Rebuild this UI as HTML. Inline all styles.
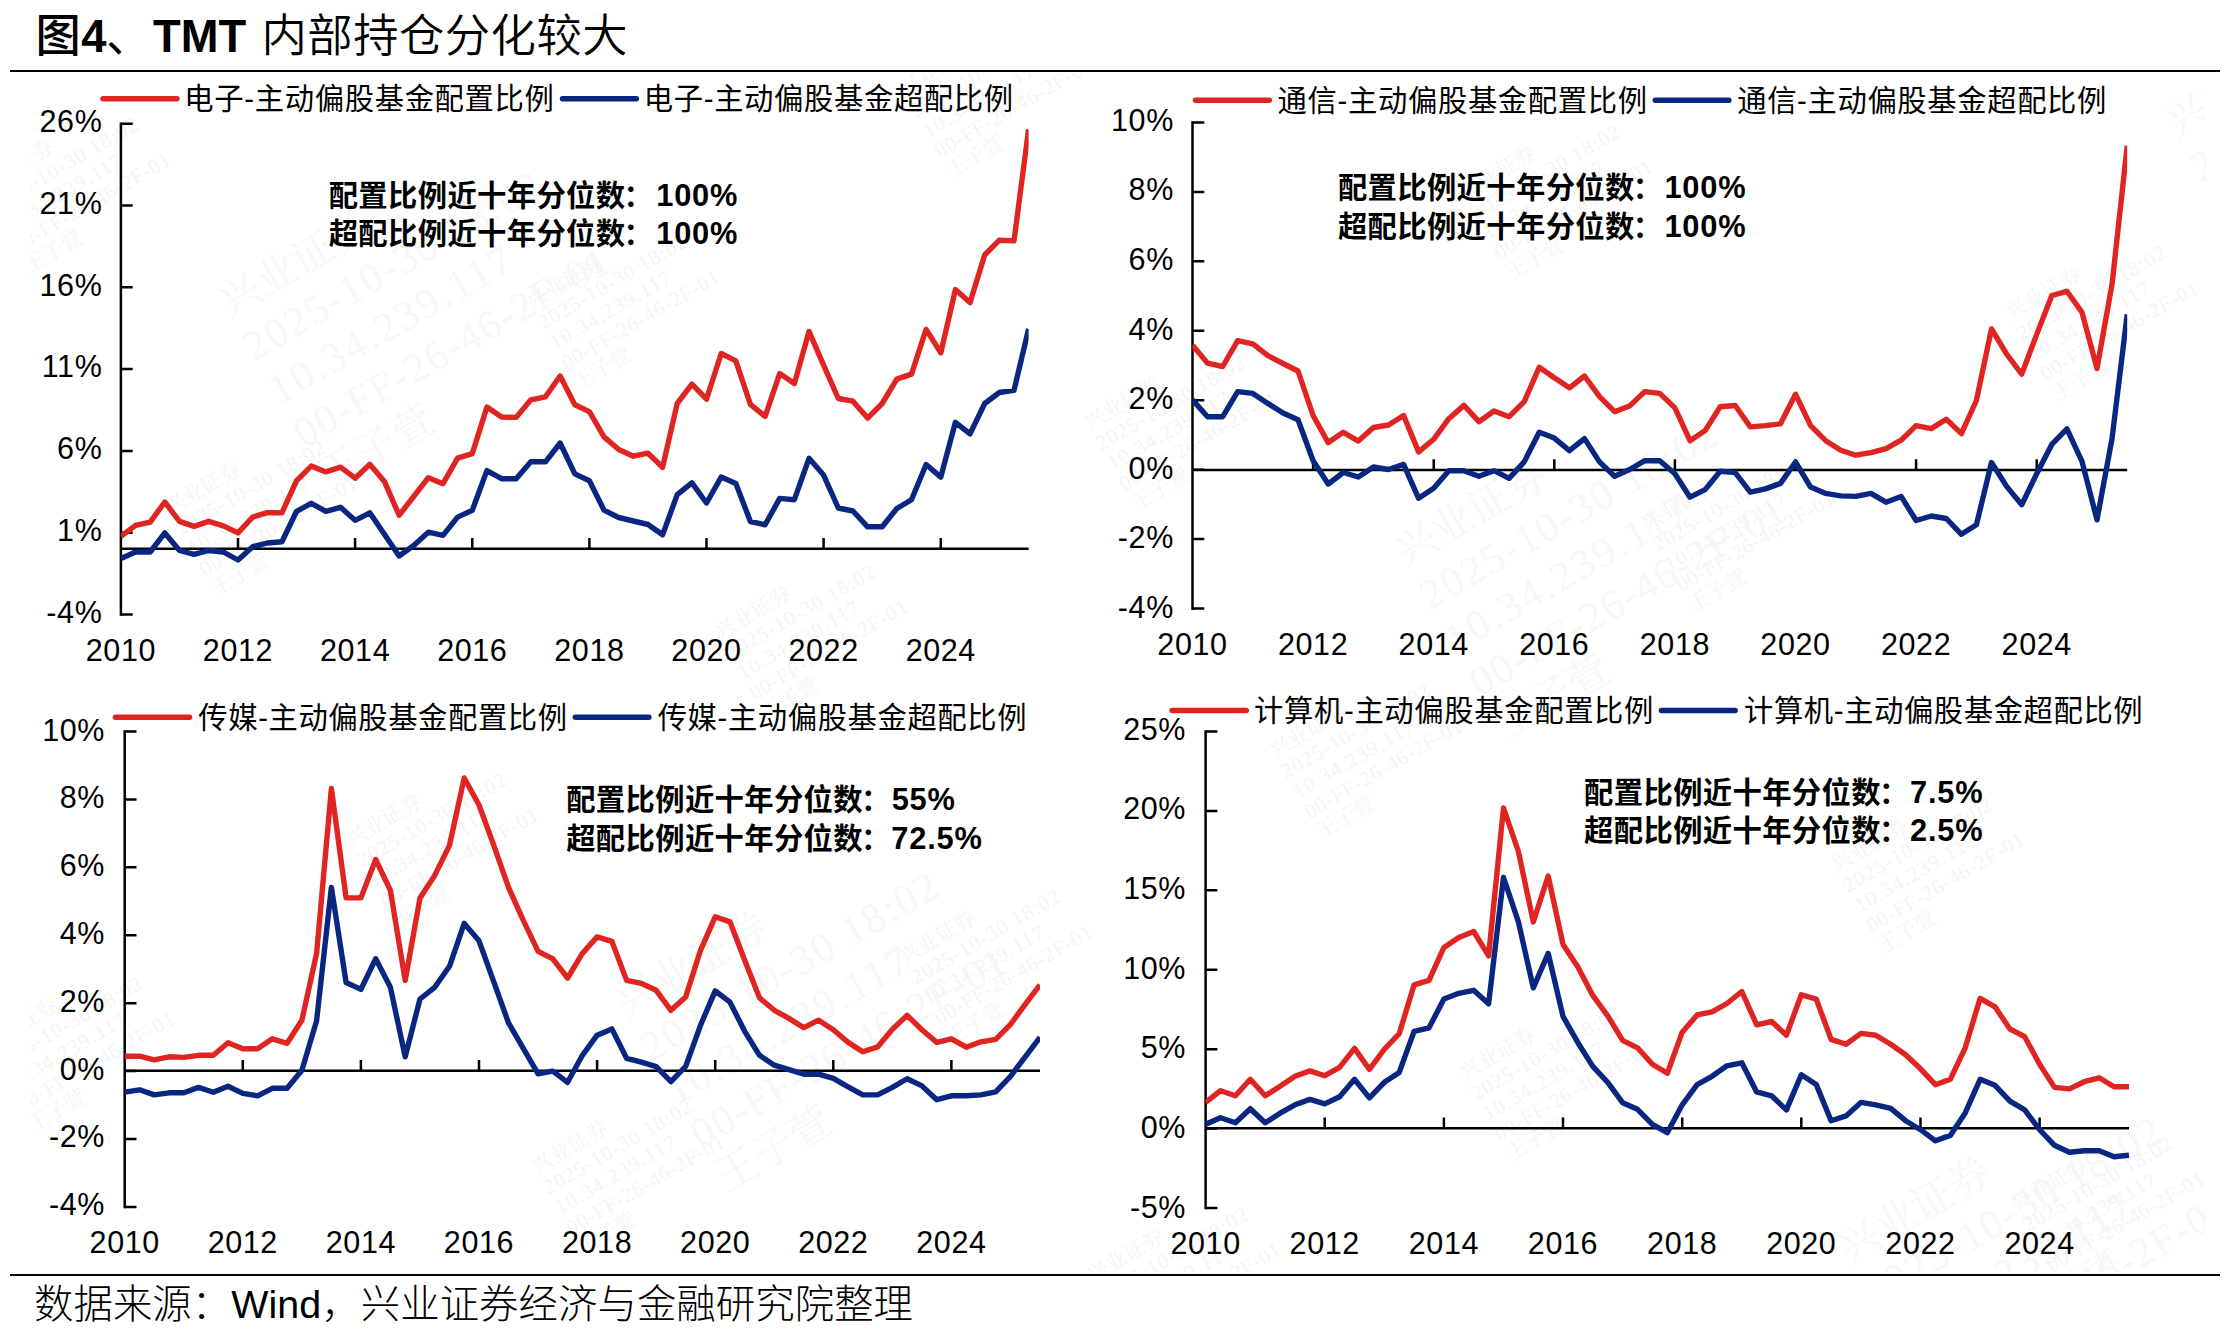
<!DOCTYPE html>
<html lang="zh-CN"><head><meta charset="utf-8">
<title>图4、TMT 内部持仓分化较大</title>
<style>
html,body{margin:0;padding:0;background:#fff;}
body{width:2230px;height:1334px;overflow:hidden;position:relative;}
svg{position:absolute;left:0;top:0;display:block;}
text{font-family:"Liberation Sans","Noto Sans CJK SC",sans-serif;fill:#000;}
.ax{font-size:30.5px;letter-spacing:0.6px;}
.lg{font-size:29.33px;}
.an{font-size:29.33px;font-weight:700;}
.nm{font-size:30.8px;letter-spacing:0.8px;}
.tb{font-size:45.3px;font-weight:700;}
.tk{font-size:45.3px;font-weight:350;}
.ft{font-size:39.4px;font-weight:300;}
.wm{font-family:"Liberation Serif","Noto Serif CJK SC",serif;fill:#f6f6f6;}
.ln{fill:none;stroke-width:5.4;stroke-linejoin:round;stroke-linecap:butt;}
.lgl{fill:none;stroke-width:5.4;stroke-linecap:round;}
.axl{stroke:#000;stroke-width:2.5;fill:none;stroke-linecap:butt;}
</style></head><body>
<svg width="2230" height="1334" viewBox="0 0 2230 1334">
<clipPath id="wmclip"><rect x="30" y="73" width="2176" height="1199"/></clipPath>
<g clip-path="url(#wmclip)">
<g transform="translate(-16.5 194.5) rotate(-30)" font-size="21"><text class="wm" style="fill:#f4f4f4" x="0" y="-2.1" textLength="84" lengthAdjust="spacing">兴业证券</text><text class="wm" style="fill:#f4f4f4" x="0" y="21.2" textLength="168" lengthAdjust="spacing">2025-10-30 18:02</text><text class="wm" style="fill:#f4f4f4" x="0" y="44.5" textLength="136.5" lengthAdjust="spacing">10.34.239.117</text><text class="wm" style="fill:#f4f4f4" x="0" y="67.8" textLength="178.5" lengthAdjust="spacing">00-FF-26-46-2F-01</text><text class="wm" style="fill:#f4f4f4" x="0" y="91.1" textLength="63" lengthAdjust="spacing">王子萱</text></g>
<g transform="translate(231 322) rotate(-30)" font-size="42"><text class="wm" style="fill:#f7f7f7" x="0" y="-4.2" textLength="168" lengthAdjust="spacing">兴业证券</text><text class="wm" style="fill:#f7f7f7" x="0" y="45.8" textLength="336" lengthAdjust="spacing">2025-10-30 18:02</text><text class="wm" style="fill:#f7f7f7" x="0" y="95.8" textLength="273" lengthAdjust="spacing">10.34.239.117</text><text class="wm" style="fill:#f7f7f7" x="0" y="145.7" textLength="357" lengthAdjust="spacing">00-FF-26-46-2F-01</text><text class="wm" style="fill:#f7f7f7" x="0" y="195.7" textLength="126" lengthAdjust="spacing">王子萱</text></g>
<g transform="translate(532.5 311.5) rotate(-30)" font-size="21"><text class="wm" style="fill:#f4f4f4" x="0" y="-2.1" textLength="84" lengthAdjust="spacing">兴业证券</text><text class="wm" style="fill:#f4f4f4" x="0" y="21.2" textLength="168" lengthAdjust="spacing">2025-10-30 18:02</text><text class="wm" style="fill:#f4f4f4" x="0" y="44.5" textLength="136.5" lengthAdjust="spacing">10.34.239.117</text><text class="wm" style="fill:#f4f4f4" x="0" y="67.8" textLength="178.5" lengthAdjust="spacing">00-FF-26-46-2F-01</text><text class="wm" style="fill:#f4f4f4" x="0" y="91.1" textLength="63" lengthAdjust="spacing">王子萱</text></g>
<g transform="translate(170.5 517.5) rotate(-30)" font-size="21"><text class="wm" style="fill:#f4f4f4" x="0" y="-2.1" textLength="84" lengthAdjust="spacing">兴业证券</text><text class="wm" style="fill:#f4f4f4" x="0" y="21.2" textLength="168" lengthAdjust="spacing">2025-10-30 18:02</text><text class="wm" style="fill:#f4f4f4" x="0" y="44.5" textLength="136.5" lengthAdjust="spacing">10.34.239.117</text><text class="wm" style="fill:#f4f4f4" x="0" y="67.8" textLength="178.5" lengthAdjust="spacing">00-FF-26-46-2F-01</text><text class="wm" style="fill:#f4f4f4" x="0" y="91.1" textLength="63" lengthAdjust="spacing">王子萱</text></g>
<g transform="translate(720.5 641.5) rotate(-30)" font-size="21"><text class="wm" style="fill:#f4f4f4" x="0" y="-2.1" textLength="84" lengthAdjust="spacing">兴业证券</text><text class="wm" style="fill:#f4f4f4" x="0" y="21.2" textLength="168" lengthAdjust="spacing">2025-10-30 18:02</text><text class="wm" style="fill:#f4f4f4" x="0" y="44.5" textLength="136.5" lengthAdjust="spacing">10.34.239.117</text><text class="wm" style="fill:#f4f4f4" x="0" y="67.8" textLength="178.5" lengthAdjust="spacing">00-FF-26-46-2F-01</text><text class="wm" style="fill:#f4f4f4" x="0" y="91.1" textLength="63" lengthAdjust="spacing">王子萱</text></g>
<g transform="translate(905.5 99.5) rotate(-30)" font-size="21"><text class="wm" style="fill:#f4f4f4" x="0" y="-2.1" textLength="84" lengthAdjust="spacing">兴业证券</text><text class="wm" style="fill:#f4f4f4" x="0" y="21.2" textLength="168" lengthAdjust="spacing">2025-10-30 18:02</text><text class="wm" style="fill:#f4f4f4" x="0" y="44.5" textLength="136.5" lengthAdjust="spacing">10.34.239.117</text><text class="wm" style="fill:#f4f4f4" x="0" y="67.8" textLength="178.5" lengthAdjust="spacing">00-FF-26-46-2F-01</text><text class="wm" style="fill:#f4f4f4" x="0" y="91.1" textLength="63" lengthAdjust="spacing">王子萱</text></g>
<g transform="translate(1465.5 201.5) rotate(-30)" font-size="21"><text class="wm" style="fill:#f4f4f4" x="0" y="-2.1" textLength="84" lengthAdjust="spacing">兴业证券</text><text class="wm" style="fill:#f4f4f4" x="0" y="21.2" textLength="168" lengthAdjust="spacing">2025-10-30 18:02</text><text class="wm" style="fill:#f4f4f4" x="0" y="44.5" textLength="136.5" lengthAdjust="spacing">10.34.239.117</text><text class="wm" style="fill:#f4f4f4" x="0" y="67.8" textLength="178.5" lengthAdjust="spacing">00-FF-26-46-2F-01</text><text class="wm" style="fill:#f4f4f4" x="0" y="91.1" textLength="63" lengthAdjust="spacing">王子萱</text></g>
<g transform="translate(2011.5 322.5) rotate(-30)" font-size="21"><text class="wm" style="fill:#f4f4f4" x="0" y="-2.1" textLength="84" lengthAdjust="spacing">兴业证券</text><text class="wm" style="fill:#f4f4f4" x="0" y="21.2" textLength="168" lengthAdjust="spacing">2025-10-30 18:02</text><text class="wm" style="fill:#f4f4f4" x="0" y="44.5" textLength="136.5" lengthAdjust="spacing">10.34.239.117</text><text class="wm" style="fill:#f4f4f4" x="0" y="67.8" textLength="178.5" lengthAdjust="spacing">00-FF-26-46-2F-01</text><text class="wm" style="fill:#f4f4f4" x="0" y="91.1" textLength="63" lengthAdjust="spacing">王子萱</text></g>
<g transform="translate(1407 571) rotate(-30)" font-size="42"><text class="wm" style="fill:#f7f7f7" x="0" y="-4.2" textLength="168" lengthAdjust="spacing">兴业证券</text><text class="wm" style="fill:#f7f7f7" x="0" y="45.8" textLength="336" lengthAdjust="spacing">2025-10-30 18:02</text><text class="wm" style="fill:#f7f7f7" x="0" y="95.8" textLength="273" lengthAdjust="spacing">10.34.239.117</text><text class="wm" style="fill:#f7f7f7" x="0" y="145.7" textLength="357" lengthAdjust="spacing">00-FF-26-46-2F-01</text><text class="wm" style="fill:#f7f7f7" x="0" y="195.7" textLength="126" lengthAdjust="spacing">王子萱</text></g>
<g transform="translate(1647.5 533.5) rotate(-30)" font-size="21"><text class="wm" style="fill:#f4f4f4" x="0" y="-2.1" textLength="84" lengthAdjust="spacing">兴业证券</text><text class="wm" style="fill:#f4f4f4" x="0" y="21.2" textLength="168" lengthAdjust="spacing">2025-10-30 18:02</text><text class="wm" style="fill:#f4f4f4" x="0" y="44.5" textLength="136.5" lengthAdjust="spacing">10.34.239.117</text><text class="wm" style="fill:#f4f4f4" x="0" y="67.8" textLength="178.5" lengthAdjust="spacing">00-FF-26-46-2F-01</text><text class="wm" style="fill:#f4f4f4" x="0" y="91.1" textLength="63" lengthAdjust="spacing">王子萱</text></g>
<g transform="translate(1090.5 432.5) rotate(-30)" font-size="21"><text class="wm" style="fill:#f4f4f4" x="0" y="-2.1" textLength="84" lengthAdjust="spacing">兴业证券</text><text class="wm" style="fill:#f4f4f4" x="0" y="21.2" textLength="168" lengthAdjust="spacing">2025-10-30 18:02</text><text class="wm" style="fill:#f4f4f4" x="0" y="44.5" textLength="136.5" lengthAdjust="spacing">10.34.239.117</text><text class="wm" style="fill:#f4f4f4" x="0" y="67.8" textLength="178.5" lengthAdjust="spacing">00-FF-26-46-2F-01</text><text class="wm" style="fill:#f4f4f4" x="0" y="91.1" textLength="63" lengthAdjust="spacing">王子萱</text></g>
<g transform="translate(2178 143) rotate(-30)" font-size="42"><text class="wm" style="fill:#f7f7f7" x="0" y="-4.2" textLength="168" lengthAdjust="spacing">兴业证券</text><text class="wm" style="fill:#f7f7f7" x="0" y="45.8" textLength="336" lengthAdjust="spacing">2025-10-30 18:02</text><text class="wm" style="fill:#f7f7f7" x="0" y="95.8" textLength="273" lengthAdjust="spacing">10.34.239.117</text><text class="wm" style="fill:#f7f7f7" x="0" y="145.7" textLength="357" lengthAdjust="spacing">00-FF-26-46-2F-01</text><text class="wm" style="fill:#f7f7f7" x="0" y="195.7" textLength="126" lengthAdjust="spacing">王子萱</text></g>
<g transform="translate(351.5 849.5) rotate(-30)" font-size="21"><text class="wm" style="fill:#f4f4f4" x="0" y="-2.1" textLength="84" lengthAdjust="spacing">兴业证券</text><text class="wm" style="fill:#f4f4f4" x="0" y="21.2" textLength="168" lengthAdjust="spacing">2025-10-30 18:02</text><text class="wm" style="fill:#f4f4f4" x="0" y="44.5" textLength="136.5" lengthAdjust="spacing">10.34.239.117</text><text class="wm" style="fill:#f4f4f4" x="0" y="67.8" textLength="178.5" lengthAdjust="spacing">00-FF-26-46-2F-01</text><text class="wm" style="fill:#f4f4f4" x="0" y="91.1" textLength="63" lengthAdjust="spacing">王子萱</text></g>
<g transform="translate(-12.5 1053.5) rotate(-30)" font-size="21"><text class="wm" style="fill:#f4f4f4" x="0" y="-2.1" textLength="84" lengthAdjust="spacing">兴业证券</text><text class="wm" style="fill:#f4f4f4" x="0" y="21.2" textLength="168" lengthAdjust="spacing">2025-10-30 18:02</text><text class="wm" style="fill:#f4f4f4" x="0" y="44.5" textLength="136.5" lengthAdjust="spacing">10.34.239.117</text><text class="wm" style="fill:#f4f4f4" x="0" y="67.8" textLength="178.5" lengthAdjust="spacing">00-FF-26-46-2F-01</text><text class="wm" style="fill:#f4f4f4" x="0" y="91.1" textLength="63" lengthAdjust="spacing">王子萱</text></g>
<g transform="translate(628 1023) rotate(-30)" font-size="42"><text class="wm" style="fill:#f7f7f7" x="0" y="-4.2" textLength="168" lengthAdjust="spacing">兴业证券</text><text class="wm" style="fill:#f7f7f7" x="0" y="45.8" textLength="336" lengthAdjust="spacing">2025-10-30 18:02</text><text class="wm" style="fill:#f7f7f7" x="0" y="95.8" textLength="273" lengthAdjust="spacing">10.34.239.117</text><text class="wm" style="fill:#f7f7f7" x="0" y="145.7" textLength="357" lengthAdjust="spacing">00-FF-26-46-2F-01</text><text class="wm" style="fill:#f7f7f7" x="0" y="195.7" textLength="126" lengthAdjust="spacing">王子萱</text></g>
<g transform="translate(905.5 966.5) rotate(-30)" font-size="21"><text class="wm" style="fill:#f4f4f4" x="0" y="-2.1" textLength="84" lengthAdjust="spacing">兴业证券</text><text class="wm" style="fill:#f4f4f4" x="0" y="21.2" textLength="168" lengthAdjust="spacing">2025-10-30 18:02</text><text class="wm" style="fill:#f4f4f4" x="0" y="44.5" textLength="136.5" lengthAdjust="spacing">10.34.239.117</text><text class="wm" style="fill:#f4f4f4" x="0" y="67.8" textLength="178.5" lengthAdjust="spacing">00-FF-26-46-2F-01</text><text class="wm" style="fill:#f4f4f4" x="0" y="91.1" textLength="63" lengthAdjust="spacing">王子萱</text></g>
<g transform="translate(537.5 1176.5) rotate(-30)" font-size="21"><text class="wm" style="fill:#f4f4f4" x="0" y="-2.1" textLength="84" lengthAdjust="spacing">兴业证券</text><text class="wm" style="fill:#f4f4f4" x="0" y="21.2" textLength="168" lengthAdjust="spacing">2025-10-30 18:02</text><text class="wm" style="fill:#f4f4f4" x="0" y="44.5" textLength="136.5" lengthAdjust="spacing">10.34.239.117</text><text class="wm" style="fill:#f4f4f4" x="0" y="67.8" textLength="178.5" lengthAdjust="spacing">00-FF-26-46-2F-01</text><text class="wm" style="fill:#f4f4f4" x="0" y="91.1" textLength="63" lengthAdjust="spacing">王子萱</text></g>
<g transform="translate(1275.5 760.5) rotate(-30)" font-size="21"><text class="wm" style="fill:#f4f4f4" x="0" y="-2.1" textLength="84" lengthAdjust="spacing">兴业证券</text><text class="wm" style="fill:#f4f4f4" x="0" y="21.2" textLength="168" lengthAdjust="spacing">2025-10-30 18:02</text><text class="wm" style="fill:#f4f4f4" x="0" y="44.5" textLength="136.5" lengthAdjust="spacing">10.34.239.117</text><text class="wm" style="fill:#f4f4f4" x="0" y="67.8" textLength="178.5" lengthAdjust="spacing">00-FF-26-46-2F-01</text><text class="wm" style="fill:#f4f4f4" x="0" y="91.1" textLength="63" lengthAdjust="spacing">王子萱</text></g>
<g transform="translate(1837.5 874.5) rotate(-30)" font-size="21"><text class="wm" style="fill:#f4f4f4" x="0" y="-2.1" textLength="84" lengthAdjust="spacing">兴业证券</text><text class="wm" style="fill:#f4f4f4" x="0" y="21.2" textLength="168" lengthAdjust="spacing">2025-10-30 18:02</text><text class="wm" style="fill:#f4f4f4" x="0" y="44.5" textLength="136.5" lengthAdjust="spacing">10.34.239.117</text><text class="wm" style="fill:#f4f4f4" x="0" y="67.8" textLength="178.5" lengthAdjust="spacing">00-FF-26-46-2F-01</text><text class="wm" style="fill:#f4f4f4" x="0" y="91.1" textLength="63" lengthAdjust="spacing">王子萱</text></g>
<g transform="translate(1465.5 1082.5) rotate(-30)" font-size="21"><text class="wm" style="fill:#f4f4f4" x="0" y="-2.1" textLength="84" lengthAdjust="spacing">兴业证券</text><text class="wm" style="fill:#f4f4f4" x="0" y="21.2" textLength="168" lengthAdjust="spacing">2025-10-30 18:02</text><text class="wm" style="fill:#f4f4f4" x="0" y="44.5" textLength="136.5" lengthAdjust="spacing">10.34.239.117</text><text class="wm" style="fill:#f4f4f4" x="0" y="67.8" textLength="178.5" lengthAdjust="spacing">00-FF-26-46-2F-01</text><text class="wm" style="fill:#f4f4f4" x="0" y="91.1" textLength="63" lengthAdjust="spacing">王子萱</text></g>
<g transform="translate(1851 1268) rotate(-30)" font-size="42"><text class="wm" style="fill:#f7f7f7" x="0" y="-4.2" textLength="168" lengthAdjust="spacing">兴业证券</text><text class="wm" style="fill:#f7f7f7" x="0" y="45.8" textLength="336" lengthAdjust="spacing">2025-10-30 18:02</text><text class="wm" style="fill:#f7f7f7" x="0" y="95.8" textLength="273" lengthAdjust="spacing">10.34.239.117</text><text class="wm" style="fill:#f7f7f7" x="0" y="145.7" textLength="357" lengthAdjust="spacing">00-FF-26-46-2F-01</text><text class="wm" style="fill:#f7f7f7" x="0" y="195.7" textLength="126" lengthAdjust="spacing">王子萱</text></g>
<g transform="translate(2017.5 1213.5) rotate(-30)" font-size="21"><text class="wm" style="fill:#f4f4f4" x="0" y="-2.1" textLength="84" lengthAdjust="spacing">兴业证券</text><text class="wm" style="fill:#f4f4f4" x="0" y="21.2" textLength="168" lengthAdjust="spacing">2025-10-30 18:02</text><text class="wm" style="fill:#f4f4f4" x="0" y="44.5" textLength="136.5" lengthAdjust="spacing">10.34.239.117</text><text class="wm" style="fill:#f4f4f4" x="0" y="67.8" textLength="178.5" lengthAdjust="spacing">00-FF-26-46-2F-01</text><text class="wm" style="fill:#f4f4f4" x="0" y="91.1" textLength="63" lengthAdjust="spacing">王子萱</text></g>
<g transform="translate(1093.5 1284.5) rotate(-30)" font-size="21"><text class="wm" style="fill:#f4f4f4" x="0" y="-2.1" textLength="84" lengthAdjust="spacing">兴业证券</text><text class="wm" style="fill:#f4f4f4" x="0" y="21.2" textLength="168" lengthAdjust="spacing">2025-10-30 18:02</text><text class="wm" style="fill:#f4f4f4" x="0" y="44.5" textLength="136.5" lengthAdjust="spacing">10.34.239.117</text><text class="wm" style="fill:#f4f4f4" x="0" y="67.8" textLength="178.5" lengthAdjust="spacing">00-FF-26-46-2F-01</text><text class="wm" style="fill:#f4f4f4" x="0" y="91.1" textLength="63" lengthAdjust="spacing">王子萱</text></g>
</g>
<text class="tb" x="35.5" y="52.2"><tspan style="font-weight:500">图</tspan><tspan x="81.3">4</tspan><tspan x="106" style="font-weight:400">、</tspan><tspan x="153">TMT</tspan></text>
<text class="tk" x="261.5" y="52.2" textLength="366" lengthAdjust="spacing">内部持仓分化较大</text>
<rect x="10" y="70" width="2210" height="2" fill="#000"/>
<rect x="10" y="1274" width="2210" height="2" fill="#000"/>
<text class="ft" x="34" y="1318" textLength="879" lengthAdjust="spacing">数据来源：Wind，兴业证券经济与金融研究院整理</text>
<g>
<clipPath id="clip0"><rect x="120.7" y="103.7" width="907.9" height="530.8"/></clipPath>
<path class="axl" d="M120.9 122.5V615.8"/>
<path class="axl" d="M120.9 548.8H1028.6"/>
<path class="axl" d="M120.9 123.7h11.8M120.9 205.5h11.8M120.9 287.3h11.8M120.9 369.1h11.8M120.9 450.9h11.8M120.9 532.7h11.8M120.9 614.5h11.8M238 548.8v-10.7M355.1 548.8v-10.7M472.3 548.8v-10.7M589.4 548.8v-10.7M706.5 548.8v-10.7M823.6 548.8v-10.7M940.8 548.8v-10.7"/>
<polyline class="ln" clip-path="url(#clip0)" stroke="#DF2421" points="120.9,536.4 135.5,525.4 150.2,522.1 164.8,502 179.5,521.4 194.1,526.4 208.7,521.4 223.4,525.9 238,532.9 252.7,517.1 267.3,512.6 281.9,512.8 296.6,480.7 311.2,466.1 325.9,471.9 340.5,467.1 355.1,478.2 369.8,464.3 384.4,481.4 399.1,515.3 413.7,496.5 428.3,477.7 443,483.7 457.6,458.1 472.3,453.6 486.9,407.1 501.5,417.1 516.2,417.4 530.8,399.8 545.5,396.8 560.1,376 574.8,404.8 589.4,411.6 604,436.9 618.7,449.5 633.3,456.2 648,453.2 662.6,467.3 677.2,403.5 691.9,384.2 706.5,399.2 721.2,353.5 735.8,360.8 750.4,404.3 765.1,416.3 779.7,373.6 794.4,383.4 809,331.4 823.6,365.1 838.3,398.5 852.9,401.2 867.6,418.1 882.2,403.5 896.8,379.1 911.5,374.1 926.1,329.4 940.8,352.8 955.4,289.6 970,302.6 984.7,255 999.3,240.2 1014,240.9 1028.6,129.3"/>
<polyline class="ln" clip-path="url(#clip0)" stroke="#092781" points="120.9,558.5 135.5,552 150.2,552 164.8,532.9 179.5,550.5 194.1,554.3 208.7,550.5 223.4,552 238,560 252.7,546.7 267.3,543 281.9,541.7 296.6,511.3 311.2,503.3 325.9,511.3 340.5,507.3 355.1,520.3 369.8,512.8 384.4,534.2 399.1,556 413.7,545.5 428.3,532.2 443,535.4 457.6,517.1 472.3,510.3 486.9,470.6 501.5,478.7 516.2,478.7 530.8,461.8 545.5,461.8 560.1,443 574.8,473.9 589.4,480.7 604,510.2 618.7,517.5 633.3,521 648,524.5 662.6,534.8 677.2,494.7 691.9,482.9 706.5,503 721.2,477.1 735.8,483.4 750.4,521.5 765.1,524.8 779.7,498.4 794.4,499.7 809,458.3 823.6,475.1 838.3,508 852.9,511 867.6,526.8 882.2,526.8 896.8,508.5 911.5,499.7 926.1,464.5 940.8,477.1 955.4,422.3 970,433.9 984.7,403.5 999.3,392.5 1014,390.4 1028.6,328.9"/>
<text class="ax" text-anchor="end" x="102.4" y="131.8">26%</text>
<text class="ax" text-anchor="end" x="102.4" y="213.7">21%</text>
<text class="ax" text-anchor="end" x="102.4" y="295.6">16%</text>
<text class="ax" text-anchor="end" x="102.4" y="377.4">11%</text>
<text class="ax" text-anchor="end" x="102.4" y="459.3">6%</text>
<text class="ax" text-anchor="end" x="102.4" y="541.2">1%</text>
<text class="ax" text-anchor="end" x="102.4" y="623.1">-4%</text>
<text class="ax" text-anchor="middle" x="120.9" y="661.2">2010</text>
<text class="ax" text-anchor="middle" x="238" y="661.2">2012</text>
<text class="ax" text-anchor="middle" x="355.1" y="661.2">2014</text>
<text class="ax" text-anchor="middle" x="472.3" y="661.2">2016</text>
<text class="ax" text-anchor="middle" x="589.4" y="661.2">2018</text>
<text class="ax" text-anchor="middle" x="706.5" y="661.2">2020</text>
<text class="ax" text-anchor="middle" x="823.6" y="661.2">2022</text>
<text class="ax" text-anchor="middle" x="940.8" y="661.2">2024</text>
<path class="lgl" stroke="#DF2421" d="M103 98.8H176.9"/>
<path class="lgl" stroke="#092781" d="M562.5 98.8H636.4"/>
<text class="lg" x="184.3" y="109.4" textLength="369.6" lengthAdjust="spacing">电子-主动偏股基金配置比例</text>
<text class="lg" x="643.8" y="109.4" textLength="369.3" lengthAdjust="spacing">电子-主动偏股基金超配比例</text>
<text class="an" x="328.7" y="205.8" style="letter-spacing:0.35px">配置比例近十年分位数<tspan dx="-2">：</tspan></text>
<text class="an nm" text-anchor="end" x="738.2" y="205.8">100%</text>
<text class="an" x="328.7" y="244.3" style="letter-spacing:0.35px">超配比例近十年分位数<tspan dx="-2">：</tspan></text>
<text class="an nm" text-anchor="end" x="738.2" y="244.3">100%</text>
</g>
<g>
<clipPath id="clip1"><rect x="1192.3" y="102.4" width="934.9" height="526.2"/></clipPath>
<path class="axl" d="M1192.5 121.2V609.9"/>
<path class="axl" d="M1192.5 470H2127.2"/>
<path class="axl" d="M1192.5 122.4h11.8M1192.5 191.9h11.8M1192.5 261.3h11.8M1192.5 330.8h11.8M1192.5 400.2h11.8M1192.5 469.7h11.8M1192.5 539.1h11.8M1192.5 608.6h11.8M1313.1 470v-10.7M1433.7 470v-10.7M1554.3 470v-10.7M1674.9 470v-10.7M1795.5 470v-10.7M1916.1 470v-10.7M2036.7 470v-10.7"/>
<polyline class="ln" clip-path="url(#clip1)" stroke="#DF2421" points="1192.5,345.2 1207.6,363.2 1222.7,366.5 1237.7,340.6 1252.8,343.9 1267.9,355.7 1283,363.5 1298,371 1313.1,415.5 1328.2,442.6 1343.3,432.3 1358.3,441.1 1373.4,427.5 1388.5,425 1403.6,415.5 1418.6,451.9 1433.7,439.3 1448.8,418.7 1463.9,405.4 1478.9,421.7 1494,411 1509.1,416.7 1524.2,401.7 1539.2,367.3 1554.3,377.8 1569.4,387.8 1584.5,376 1599.5,396.6 1614.6,411.7 1629.7,405.9 1644.8,391.6 1659.8,393.4 1674.9,407.9 1690,440.7 1705.1,430.6 1720.2,406.8 1735.2,405.5 1750.3,426.9 1765.4,425.6 1780.5,423.8 1795.5,394.2 1810.6,425.6 1825.7,440.7 1840.8,450.2 1855.8,455.2 1870.9,452.7 1886,448.7 1901.1,440.2 1916.1,425.6 1931.2,428.6 1946.3,419.3 1961.4,433.6 1976.4,400.5 1991.5,328.9 2006.6,354 2021.7,374.1 2036.7,334.4 2051.8,295.5 2066.9,291.3 2082,312.4 2097,368.5 2112.1,283.7 2127.2,145.7"/>
<polyline class="ln" clip-path="url(#clip1)" stroke="#092781" points="1192.5,399.9 1207.6,416.7 1222.7,416.7 1237.7,391.6 1252.8,393.4 1267.9,403.4 1283,413 1298,419.7 1313.1,460.7 1328.2,484 1343.3,472.5 1358.3,477 1373.4,467 1388.5,469.5 1403.6,464.4 1418.6,498.3 1433.7,488.3 1448.8,470.7 1463.9,470.7 1478.9,476.2 1494,470.7 1509.1,478.3 1524.2,461.9 1539.2,432.3 1554.3,438.1 1569.4,450.6 1584.5,438.6 1599.5,461.9 1614.6,476.2 1629.7,469.5 1644.8,460.7 1659.8,460.7 1674.9,473.7 1690,497.2 1705.1,489.6 1720.2,471.3 1735.2,472.6 1750.3,492.2 1765.4,488.9 1780.5,483.4 1795.5,462 1810.6,487.1 1825.7,493.4 1840.8,495.9 1855.8,496.4 1870.9,493.4 1886,502.2 1901.1,496.4 1916.1,520.5 1931.2,516 1946.3,518.5 1961.4,534.3 1976.4,524.8 1991.5,462.5 2006.6,486.4 2021.7,504.7 2036.7,473.8 2051.8,444.4 2066.9,428.9 2082,461.3 2097,519.8 2112.1,438.2 2127.2,314.4"/>
<text class="ax" text-anchor="end" x="1173.9" y="130.5">10%</text>
<text class="ax" text-anchor="end" x="1173.9" y="200.2">8%</text>
<text class="ax" text-anchor="end" x="1173.9" y="269.8">6%</text>
<text class="ax" text-anchor="end" x="1173.9" y="339.5">4%</text>
<text class="ax" text-anchor="end" x="1173.9" y="409.1">2%</text>
<text class="ax" text-anchor="end" x="1173.9" y="478.8">0%</text>
<text class="ax" text-anchor="end" x="1173.9" y="548.4">-2%</text>
<text class="ax" text-anchor="end" x="1173.9" y="618.1">-4%</text>
<text class="ax" text-anchor="middle" x="1192.5" y="655.2">2010</text>
<text class="ax" text-anchor="middle" x="1313.1" y="655.2">2012</text>
<text class="ax" text-anchor="middle" x="1433.7" y="655.2">2014</text>
<text class="ax" text-anchor="middle" x="1554.3" y="655.2">2016</text>
<text class="ax" text-anchor="middle" x="1674.9" y="655.2">2018</text>
<text class="ax" text-anchor="middle" x="1795.5" y="655.2">2020</text>
<text class="ax" text-anchor="middle" x="1916.1" y="655.2">2022</text>
<text class="ax" text-anchor="middle" x="2036.7" y="655.2">2024</text>
<path class="lgl" stroke="#DF2421" d="M1195.5 100.2H1269.4"/>
<path class="lgl" stroke="#092781" d="M1655.3 100.2H1728.9"/>
<text class="lg" x="1277.6" y="110.8" textLength="369.5" lengthAdjust="spacing">通信-主动偏股基金配置比例</text>
<text class="lg" x="1737.2" y="110.8" textLength="369.2" lengthAdjust="spacing">通信-主动偏股基金超配比例</text>
<text class="an" x="1337.9" y="198.4" style="letter-spacing:0.35px">配置比例近十年分位数<tspan dx="-2">：</tspan></text>
<text class="an nm" text-anchor="end" x="1746.4" y="198.4">100%</text>
<text class="an" x="1337.9" y="236.8" style="letter-spacing:0.35px">超配比例近十年分位数<tspan dx="-2">：</tspan></text>
<text class="an nm" text-anchor="end" x="1746.4" y="236.8">100%</text>
</g>
<g>
<clipPath id="clip2"><rect x="124.5" y="711.5" width="915.5" height="515.4"/></clipPath>
<path class="axl" d="M124.7 730.2V1208.2"/>
<path class="axl" d="M124.7 1070.8H1040"/>
<path class="axl" d="M124.7 731.5h11.8M124.7 799.4h11.8M124.7 867.3h11.8M124.7 935.2h11.8M124.7 1003.2h11.8M124.7 1071.1h11.8M124.7 1139h11.8M124.7 1206.9h11.8M242.8 1070.8v-10.7M360.9 1070.8v-10.7M479 1070.8v-10.7M597.1 1070.8v-10.7M715.2 1070.8v-10.7M833.3 1070.8v-10.7M951.4 1070.8v-10.7"/>
<polyline class="ln" clip-path="url(#clip2)" stroke="#DF2421" points="124.7,1056.2 139.5,1056.2 154.2,1059.8 169,1056.8 183.8,1057.4 198.5,1055.3 213.3,1055.3 228,1042.7 242.8,1048.7 257.6,1048.7 272.3,1038.8 287.1,1043.3 301.9,1020.2 316.6,953.4 331.4,788.5 346.1,897.9 360.9,897.9 375.7,859.5 390.4,890.4 405.2,980.4 420,897.9 434.7,875.4 449.5,845.4 464.2,778 479,805 493.8,845.4 508.5,887.4 523.3,920.4 538.1,951.3 552.8,958.8 567.6,978 582.4,953.4 597.1,936.9 611.9,941.4 626.6,980.4 641.4,983.4 656.2,990.3 670.9,1010.3 685.7,996.9 700.5,950.4 715.2,916.8 730,921.9 744.7,960.3 759.5,997.8 774.3,1010.3 789,1018.4 803.8,1027.7 818.6,1020.2 833.3,1029.8 848.1,1042.4 862.8,1051.7 877.6,1046.9 892.4,1029.2 907.1,1015.4 921.9,1029.8 936.7,1042.4 951.4,1038.8 966.2,1047.2 980.9,1041.8 995.7,1039.4 1010.5,1024.4 1025.2,1004.3 1040,984.9"/>
<polyline class="ln" clip-path="url(#clip2)" stroke="#092781" points="124.7,1092.2 139.5,1089.8 154.2,1094.9 169,1092.8 183.8,1092.8 198.5,1087.4 213.3,1092.2 228,1086.2 242.8,1093.4 257.6,1095.8 272.3,1088.3 287.1,1088.3 301.9,1070.3 316.6,1020.8 331.4,887.4 346.1,982.5 360.9,989.4 375.7,958.8 390.4,987.3 405.2,1056.8 420,999 434.7,987.3 449.5,966.3 464.2,923.4 479,940.8 493.8,981.9 508.5,1022.9 523.3,1048.4 538.1,1073.9 552.8,1071.2 567.6,1082.3 582.4,1055.3 597.1,1035.2 611.9,1028.9 626.6,1058.3 641.4,1062.2 656.2,1066.7 670.9,1081.7 685.7,1066.4 700.5,1025.3 715.2,990.9 730,1002.2 744.7,1031.3 759.5,1055.3 774.3,1065.2 789,1069.7 803.8,1074.2 818.6,1074.2 833.3,1078.4 848.1,1086.8 862.8,1094.9 877.6,1094.9 892.4,1087.4 907.1,1078.7 921.9,1085.9 936.7,1099.7 951.4,1095.8 966.2,1095.8 980.9,1094.9 995.7,1091.9 1010.5,1076.3 1025.2,1056.8 1040,1037.3"/>
<text class="ax" text-anchor="end" x="105" y="740.6">10%</text>
<text class="ax" text-anchor="end" x="105" y="808.4">8%</text>
<text class="ax" text-anchor="end" x="105" y="876.2">6%</text>
<text class="ax" text-anchor="end" x="105" y="944">4%</text>
<text class="ax" text-anchor="end" x="105" y="1011.8">2%</text>
<text class="ax" text-anchor="end" x="105" y="1079.6">0%</text>
<text class="ax" text-anchor="end" x="105" y="1147.4">-2%</text>
<text class="ax" text-anchor="end" x="105" y="1215.2">-4%</text>
<text class="ax" text-anchor="middle" x="124.7" y="1253.4">2010</text>
<text class="ax" text-anchor="middle" x="242.8" y="1253.4">2012</text>
<text class="ax" text-anchor="middle" x="360.9" y="1253.4">2014</text>
<text class="ax" text-anchor="middle" x="479" y="1253.4">2016</text>
<text class="ax" text-anchor="middle" x="597.1" y="1253.4">2018</text>
<text class="ax" text-anchor="middle" x="715.2" y="1253.4">2020</text>
<text class="ax" text-anchor="middle" x="833.3" y="1253.4">2022</text>
<text class="ax" text-anchor="middle" x="951.4" y="1253.4">2024</text>
<path class="lgl" stroke="#DF2421" d="M115.4 717.2H189.6"/>
<path class="lgl" stroke="#092781" d="M575.3 717.2H648.9"/>
<text class="lg" x="198.3" y="727.8" textLength="368.8" lengthAdjust="spacing">传媒-主动偏股基金配置比例</text>
<text class="lg" x="657.7" y="727.8" textLength="368.8" lengthAdjust="spacing">传媒-主动偏股基金超配比例</text>
<text class="an" x="566.2" y="809.8" style="letter-spacing:0.35px">配置比例近十年分位数<tspan dx="-2">：</tspan></text>
<text class="an nm" text-anchor="end" x="955.7" y="809.8">55%</text>
<text class="an" x="566.2" y="849.4" style="letter-spacing:0.35px">超配比例近十年分位数<tspan dx="-2">：</tspan></text>
<text class="an nm" text-anchor="end" x="982.7" y="849.4">72.5%</text>
</g>
<g>
<clipPath id="clip3"><rect x="1205.4" y="711.5" width="923.6" height="516.5"/></clipPath>
<path class="axl" d="M1205.6 730.2V1209.2"/>
<path class="axl" d="M1205.6 1128.2H2129"/>
<path class="axl" d="M1205.6 731.5h11.8M1205.6 810.9h11.8M1205.6 890.3h11.8M1205.6 969.8h11.8M1205.6 1049.2h11.8M1205.6 1128.6h11.8M1205.6 1208h11.8M1324.7 1128.2v-10.7M1443.9 1128.2v-10.7M1563 1128.2v-10.7M1682.2 1128.2v-10.7M1801.3 1128.2v-10.7M1920.5 1128.2v-10.7M2039.6 1128.2v-10.7"/>
<polyline class="ln" clip-path="url(#clip3)" stroke="#DF2421" points="1205.6,1102.4 1220.5,1090.7 1235.4,1095.8 1250.3,1079.3 1265.2,1095.8 1280.1,1086.2 1295,1076.3 1309.9,1070.9 1324.7,1075.7 1339.6,1067.3 1354.5,1048.4 1369.4,1069.4 1384.3,1049.3 1399.2,1033.7 1414.1,984.9 1429,980.4 1443.9,947.4 1458.8,937.5 1473.7,931.5 1488.6,955.8 1503.5,808 1518.4,851.5 1533.3,921.9 1548.2,876 1563,944.4 1577.9,966.9 1592.8,995.4 1607.7,1015.8 1622.6,1040.3 1637.5,1047.8 1652.4,1064.3 1667.3,1073.3 1682.2,1032.2 1697.1,1014.9 1712,1011.9 1726.9,1003.5 1741.8,991.5 1756.7,1024.8 1771.6,1021.5 1786.4,1035.2 1801.3,994.8 1816.2,999 1831.1,1039.4 1846,1044.2 1860.9,1033.4 1875.8,1035.2 1890.7,1044.2 1905.6,1054.7 1920.5,1068.8 1935.4,1084.7 1950.3,1079.3 1965.2,1047.8 1980.1,998.4 1995,1006.8 2009.9,1029 2024.7,1036.7 2039.6,1064.3 2054.5,1087.4 2069.4,1088.9 2084.3,1081.7 2099.2,1077.8 2114.1,1086.8 2129,1086.8"/>
<polyline class="ln" clip-path="url(#clip3)" stroke="#092781" points="1205.6,1124.3 1220.5,1117.7 1235.4,1122.8 1250.3,1108.7 1265.2,1122.8 1280.1,1113.2 1295,1104.8 1309.9,1099.4 1324.7,1103.9 1339.6,1096.7 1354.5,1079.3 1369.4,1097.9 1384.3,1082.3 1399.2,1072.4 1414.1,1031.3 1429,1027.8 1443.9,999 1458.8,993.3 1473.7,990.3 1488.6,1003.8 1503.5,877.5 1518.4,921.9 1533.3,987.9 1548.2,953.4 1563,1016.4 1577.9,1042.7 1592.8,1066.4 1607.7,1082.3 1622.6,1102.7 1637.5,1109.3 1652.4,1124.3 1667.3,1132.7 1682.2,1104.8 1697.1,1084.7 1712,1076.3 1726.9,1065.8 1741.8,1062.8 1756.7,1091.9 1771.6,1095.8 1786.4,1109.9 1801.3,1074.8 1816.2,1084.4 1831.1,1120.7 1846,1115.9 1860.9,1102.4 1875.8,1104.8 1890.7,1108.4 1905.6,1120.7 1920.5,1129.7 1935.4,1140.8 1950.3,1135.4 1965.2,1112.9 1980.1,1079.3 1995,1085.3 2009.9,1101.2 2024.7,1109.9 2039.6,1129.7 2054.5,1145.3 2069.4,1152.2 2084.3,1150.7 2099.2,1150.7 2114.1,1156.7 2129,1155.2"/>
<text class="ax" text-anchor="end" x="1186" y="739.6">25%</text>
<text class="ax" text-anchor="end" x="1186" y="819.2">20%</text>
<text class="ax" text-anchor="end" x="1186" y="898.9">15%</text>
<text class="ax" text-anchor="end" x="1186" y="978.5">10%</text>
<text class="ax" text-anchor="end" x="1186" y="1058.2">5%</text>
<text class="ax" text-anchor="end" x="1186" y="1137.8">0%</text>
<text class="ax" text-anchor="end" x="1186" y="1217.5">-5%</text>
<text class="ax" text-anchor="middle" x="1205.6" y="1254.4">2010</text>
<text class="ax" text-anchor="middle" x="1324.7" y="1254.4">2012</text>
<text class="ax" text-anchor="middle" x="1443.9" y="1254.4">2014</text>
<text class="ax" text-anchor="middle" x="1563" y="1254.4">2016</text>
<text class="ax" text-anchor="middle" x="1682.2" y="1254.4">2018</text>
<text class="ax" text-anchor="middle" x="1801.3" y="1254.4">2020</text>
<text class="ax" text-anchor="middle" x="1920.5" y="1254.4">2022</text>
<text class="ax" text-anchor="middle" x="2039.6" y="1254.4">2024</text>
<path class="lgl" stroke="#DF2421" d="M1172.1 710.5H1246.3"/>
<path class="lgl" stroke="#092781" d="M1661.4 710.5H1735.2"/>
<text class="lg" x="1254.1" y="721.1" textLength="399.3" lengthAdjust="spacing">计算机-主动偏股基金配置比例</text>
<text class="lg" x="1744" y="721.1" textLength="398.7" lengthAdjust="spacing">计算机-主动偏股基金超配比例</text>
<text class="an" x="1584.1" y="803.3" style="letter-spacing:0.35px">配置比例近十年分位数<tspan dx="-2">：</tspan></text>
<text class="an nm" text-anchor="end" x="1983.4" y="803.3">7.5%</text>
<text class="an" x="1584.1" y="840.8" style="letter-spacing:0.35px">超配比例近十年分位数<tspan dx="-2">：</tspan></text>
<text class="an nm" text-anchor="end" x="1983.4" y="840.8">2.5%</text>
</g>
</svg></body></html>
